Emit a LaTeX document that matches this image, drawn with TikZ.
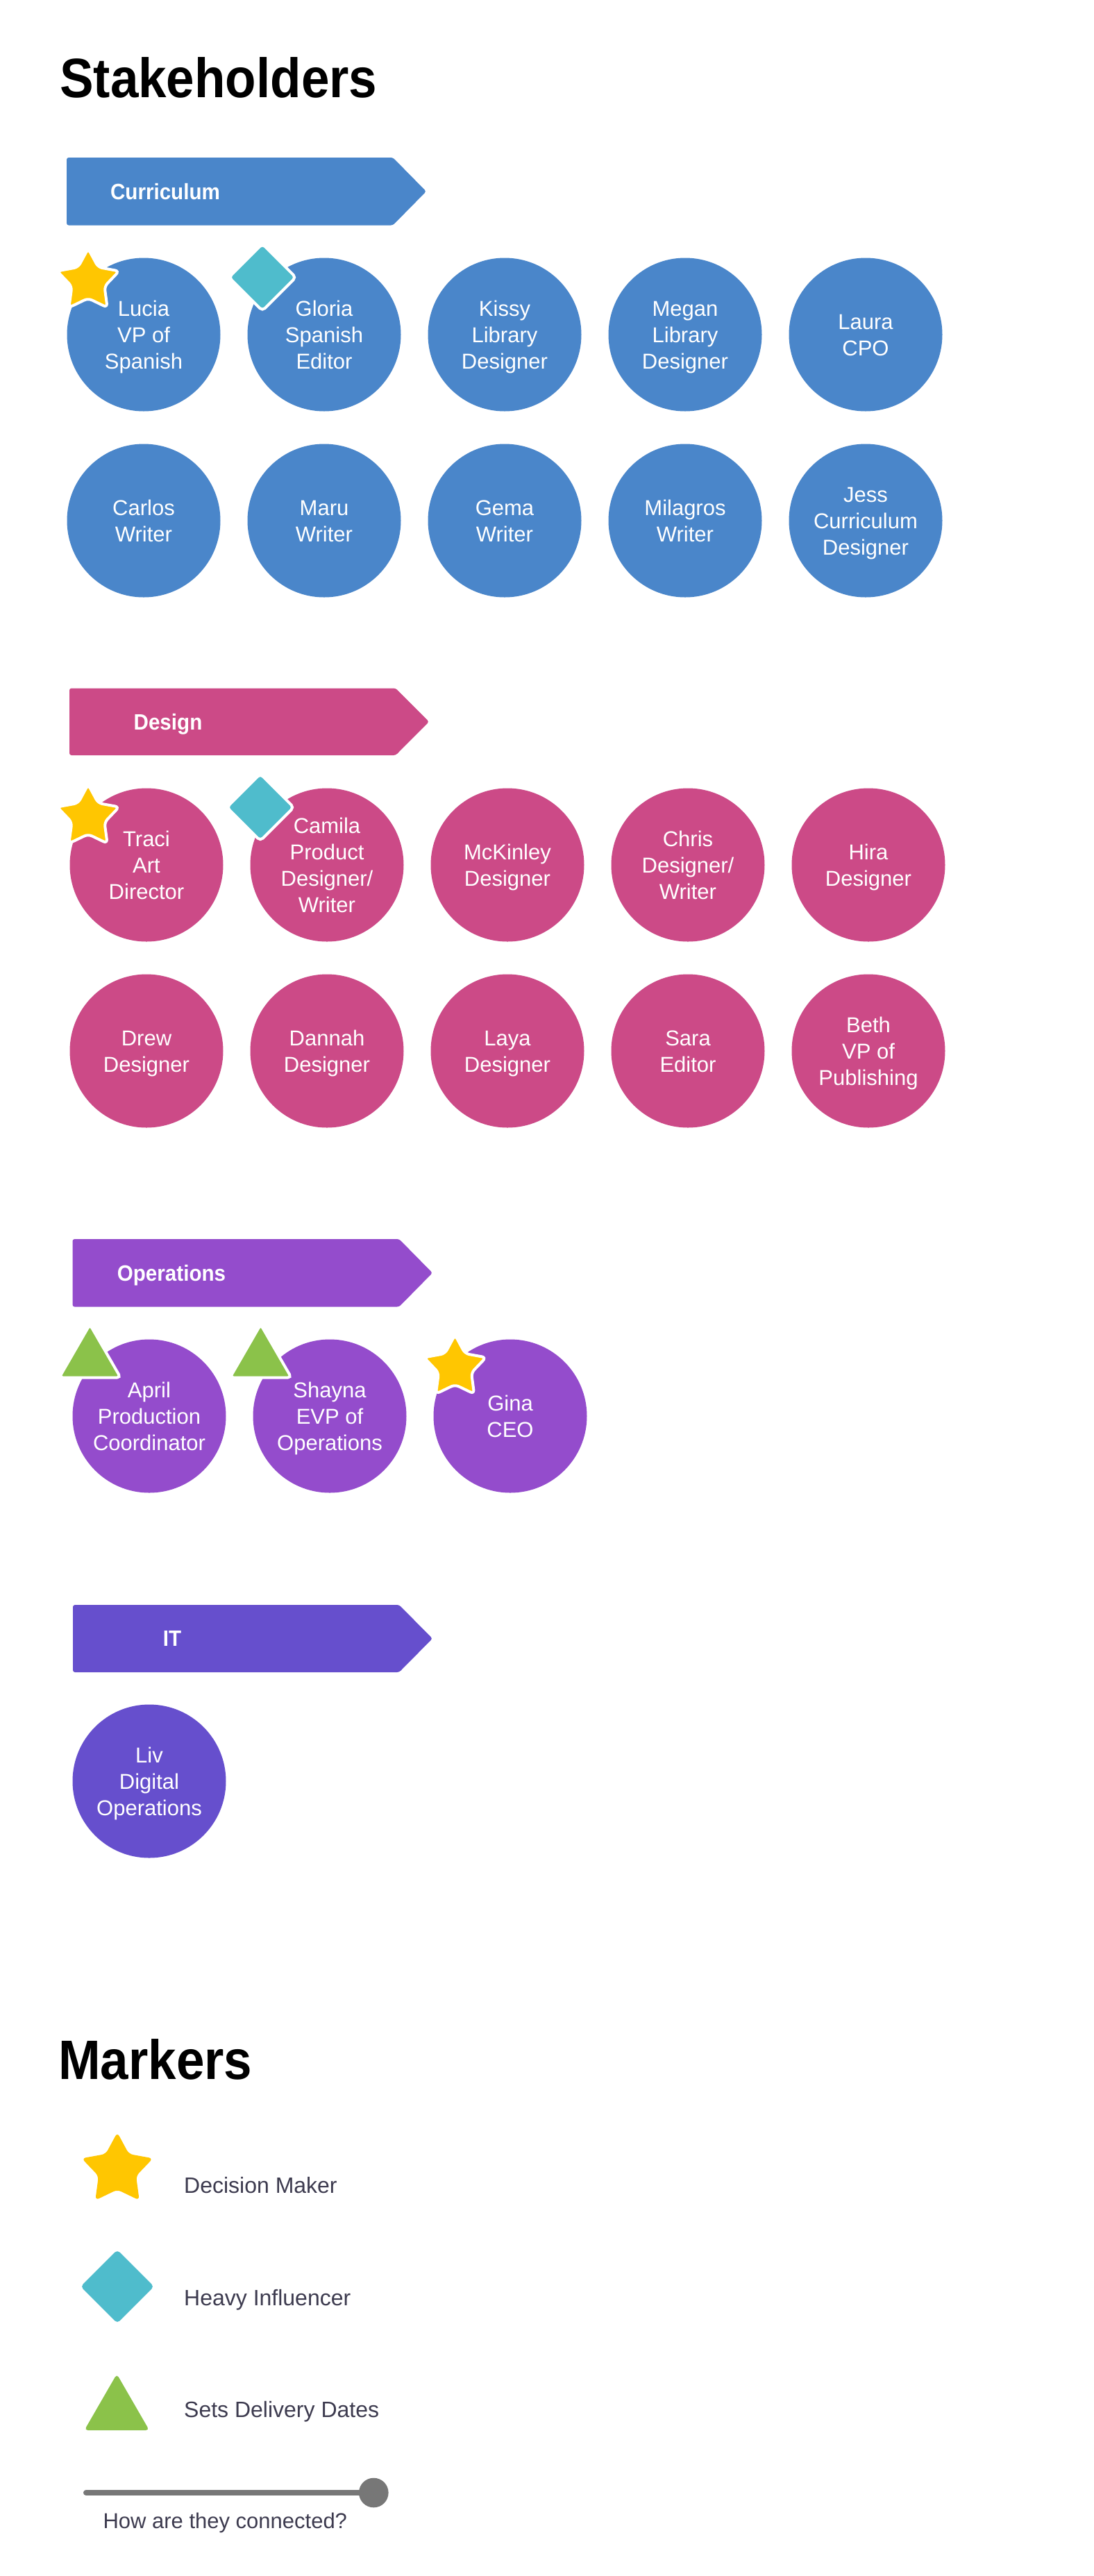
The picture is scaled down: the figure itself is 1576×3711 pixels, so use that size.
\documentclass[tikz,border=0pt]{standalone}
\usepackage{fontspec}
\setmainfont{Liberation Sans}
\newfontfamily\titlefont[FakeStretch=0.91]{Liberation Sans}
\newfontfamily\bannerfont[FakeStretch=0.925]{Liberation Sans}
\usetikzlibrary{shapes.geometric}
\setlength{\tabcolsep}{0pt}
\definecolor{cblue}{HTML}{4A86CA}
\definecolor{cpink}{HTML}{CC4A87}
\definecolor{cpurple}{HTML}{944CCC}
\definecolor{cindigo}{HTML}{664FCD}
\definecolor{cyellow}{HTML}{FFC601}
\definecolor{cteal}{HTML}{4FBCCC}
\definecolor{cgreen}{HTML}{8BC24A}
\definecolor{ctext}{HTML}{3D3B4F}
\definecolor{cslider}{HTML}{777777}
\tikzset{
  pcirc/.style={circle, minimum size=221pt, inner sep=0pt},
  ptext/.style={inner sep=0pt, text=white, font=\fontsize{31}{38}\selectfont},
  title/.style={anchor=base west, inner sep=0pt, font=\titlefont\bfseries\fontsize{80}{96}\selectfont},
  btext/.style={inner sep=0pt, text=white, text height=22.9pt, text depth=0pt, font=\bannerfont\bfseries\fontsize{32}{38}\selectfont},
  ltext/.style={anchor=base west, inner sep=0pt, text=ctext, font=\fontsize{32}{38}\selectfont},
  mstar/.style={star, star points=5, star point ratio=1.9, inner sep=0pt, fill=cyellow, rounded corners=6pt},
  mdiam/.style={diamond, aspect=1, inner sep=0pt, fill=cteal, rounded corners=5pt},
  mtri/.style={regular polygon, regular polygon sides=3, inner sep=0pt, fill=cgreen, rounded corners=5pt},
  wline/.style={draw=white, line width=4pt},
  knob/.style={circle, fill=cslider, minimum size=42.6pt, inner sep=0pt},
}
\newcommand\person[5]{%
  \node[pcirc, fill=#4] (#1) at (#2,#3) {};
  \node[ptext] (#1t) at ([yshift=-3.5pt]#1.center) {\begin{tabular}{c}#5\end{tabular}};}
\newcommand\banner[5]{% name, left, top, colour, text centre x
  \fill[#4, rounded corners=3pt] (#2,#3) -- (#2+470,#3) -- (#2+518,#3+48.5) -- (#2+470,#3+97) -- (#2,#3+97) -- cycle;
  \node[btext] (#1) at (#5,#3+48.5) {#1};}
\begin{document}
\begin{tikzpicture}[x=1pt, y=-1pt]
\useasboundingbox (0,0) rectangle (1576,3711);
\fill[white] (0,0) rectangle (1576,3711);

\node[title] (stake) at (86,140.8) {Stakeholders};

% Curriculum
\fill[cblue, rounded corners=3pt] (96,227) -- (566,227) -- (614,275.75) -- (566,324.5) -- (96,324.5) -- cycle;
\node[btext] (curr) at (238,275.75) {Curriculum};
\person{lucia}{207}{482}{cblue}{Lucia\\VP of\\Spanish}
\person{gloria}{467}{482}{cblue}{Gloria\\Spanish\\Editor}
\person{kissy}{727}{482}{cblue}{Kissy\\Library\\Designer}
\person{megan}{987}{482}{cblue}{Megan\\Library\\Designer}
\person{laura}{1247}{482}{cblue}{Laura\\CPO}
\person{carlos}{207}{750}{cblue}{Carlos\\Writer}
\person{maru}{467}{750}{cblue}{Maru\\Writer}
\person{gema}{727}{750}{cblue}{Gema\\Writer}
\person{milagros}{987}{750}{cblue}{Milagros\\Writer}
\person{jess}{1247}{750}{cblue}{Jess\\Curriculum\\Designer}
\node[mstar, wline, minimum size=94pt] (luciam) at (127,405) {};
\node[mdiam, wline, minimum size=98pt] (gloriam) at (378,399.5) {};

% Design
\fill[cpink, rounded corners=3pt] (100,991.5) -- (570,991.5) -- (618,1039.75) -- (570,1088) -- (100,1088) -- cycle;
\node[btext] (design) at (242,1039.75) {Design};
\person{traci}{211}{1246}{cpink}{Traci\\Art\\Director}
\person{camila}{471}{1246}{cpink}{Camila\\Product\\Designer/\\Writer}
\person{mckinley}{731}{1246}{cpink}{McKinley\\Designer}
\person{chris}{991}{1246}{cpink}{Chris\\Designer/\\Writer}
\person{hira}{1251}{1246}{cpink}{Hira\\Designer}
\person{drew}{211}{1514}{cpink}{Drew\\Designer}
\person{dannah}{471}{1514}{cpink}{Dannah\\Designer}
\person{laya}{731}{1514}{cpink}{Laya\\Designer}
\person{sara}{991}{1514}{cpink}{Sara\\Editor}
\person{beth}{1251}{1514}{cpink}{Beth\\VP of\\Publishing}
\node[mstar, wline, minimum size=94pt] (tracim) at (127,1177) {};
\node[mdiam, wline, minimum size=98pt] (camilam) at (375,1163) {};

% Operations
\fill[cpurple, rounded corners=3pt] (104.5,1785) -- (575,1785) -- (623,1833.75) -- (575,1882.5) -- (104.5,1882.5) -- cycle;
\node[btext] (ops) at (247,1833.75) {Operations};
\person{april}{215}{2040}{cpurple}{April\\Production\\Coordinator}
\person{shayna}{475}{2040}{cpurple}{Shayna\\EVP of\\Operations}
\person{gina}{735}{2040}{cpurple}{Gina\\CEO}
\node[mtri, wline, minimum size=102pt] (aprilm) at (129.5,1959) {};
\node[mtri, wline, minimum size=102pt] (shaynam) at (375.5,1959) {};
\node[mstar, wline, minimum size=94pt] (ginam) at (655.5,1970) {};

% IT
\fill[cindigo, rounded corners=3pt] (105,2312) -- (575,2312) -- (623,2360.5) -- (575,2409) -- (105,2409) -- cycle;
\node[btext] (it) at (248,2360.5) {IT};
\person{liv}{215}{2566}{cindigo}{Liv\\Digital\\Operations}

% Markers legend
\node[title] (markers) at (84,2995.5) {Markers};
\node[mstar, minimum size=108pt] (lstar) at (169,3126) {};
\node[ltext] (lstart) at (265,3159.3) {Decision Maker};
\node[mdiam, minimum size=106pt] (ldiam) at (169,3294) {};
\node[ltext] (ldiamt) at (265,3321.7) {Heavy Influencer};
\node[mtri, minimum size=108pt] (ltri) at (168.3,3474) {};
\node[ltext] (ltrit) at (265,3482.7) {Sets Delivery Dates};

\coordinate (slstart) at (124,3591);
\node[knob] (slknob) at (538.3,3591) {};
\draw[cslider, line width=8pt, line cap=round] (slstart) -- (slknob.center);
\node[ltext, font=\fontsize{31}{38}\selectfont] (slt) at (148.3,3642.7) {How are they connected?};
\end{tikzpicture}
\end{document}
